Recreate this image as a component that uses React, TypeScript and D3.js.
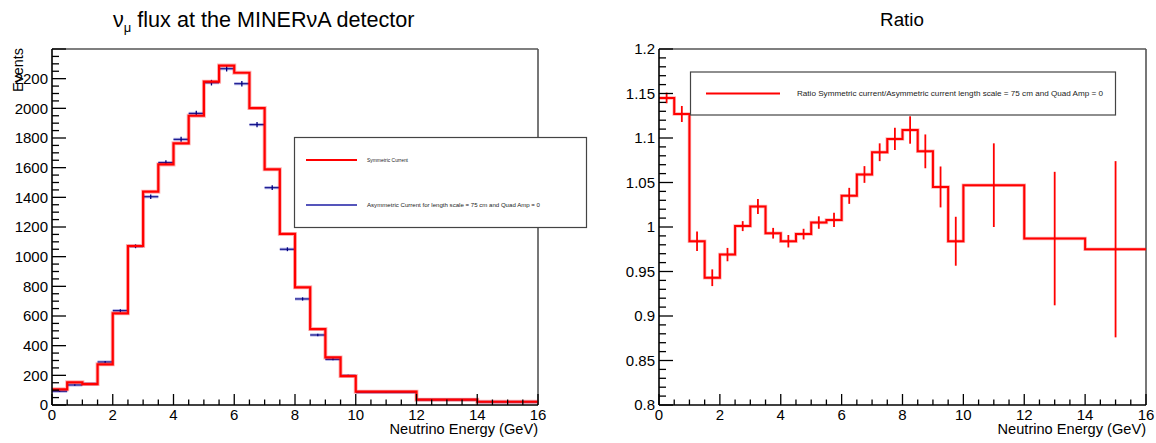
import React from "react";
import * as d3 from "d3";

// ---------- data ----------
const binEdges = [0, 0.5, 1, 1.5, 2, 2.5, 3, 3.5, 4, 4.5, 5, 5.5, 6, 6.5, 7, 7.5, 8, 8.5, 9, 9.5, 10, 12, 14, 16];
const symmetricCurrent = [106, 153, 141, 274, 618, 1072, 1438, 1622, 1764, 1950, 2180, 2288, 2240, 2002, 1589, 1153, 793, 512, 321, 195, 90, 36, 22];
const asymmetricCurrent = [93, 135, 143, 290, 636, 1070, 1404, 1634, 1791, 1966, 2173, 2267, 2166, 1890, 1465, 1050, 715, 472, 308, 198, 86, 35, 21];
const asymmetricErr = [4, 5, 5, 7, 10, 13, 15, 16, 17, 18, 19, 19, 19, 18, 16, 13, 11, 9, 7, 6, 4, 3, 2];
const ratioValues = [1.145, 1.127, 0.984, 0.943, 0.969, 1.001, 1.023, 0.993, 0.984, 0.992, 1.005, 1.008, 1.035, 1.059, 1.084, 1.099, 1.109, 1.085, 1.045, 0.984, 1.047, 0.987, 0.975];
const ratioErr = [0.006, 0.009, 0.011, 0.0094, 0.0075, 0.0056, 0.0084, 0.006, 0.007, 0.006, 0.007, 0.008, 0.009, 0.0094, 0.01, 0.0125, 0.0154, 0.019, 0.023, 0.0275, 0.047, 0.075, 0.099];

const xTickLabels = ["0", "2", "4", "6", "8", "10", "12", "14", "16"];
const leftYTickLabels = ["0", "200", "400", "600", "800", "1000", "1200", "1400", "1600", "1800", "2000", "2200"];
const rightYTickLabels = ["0.8", "0.85", "0.9", "0.95", "1", "1.05", "1.1", "1.15", "1.2"];

const leftTitleMain = "ν";
const leftTitleSub = "μ";
const leftTitleRest = " flux at the MINERνA detector";
const rightTitle = "Ratio";
const xAxisTitle = "Neutrino Energy (GeV)";
const leftYAxisTitle = "Events";
const legendSym = "Symmetric Current";
const legendAsym = "Asymmetric Current for length scale = 75 cm and Quad Amp = 0";
const legendRatio = "Ratio Symmetric current/Asymmetric current length scale = 75 cm and Quad Amp = 0";

const FONT = "'Liberation Sans', Arial, Helvetica, sans-serif";

function stepPath(x: d3.ScaleLinear<number, number>, y: d3.ScaleLinear<number, number>, vals: number[]) {
  const p = d3.path();
  vals.forEach((v, i) => {
    const x0 = x(binEdges[i]);
    const x1 = x(binEdges[i + 1]);
    const yy = y(v);
    if (i === 0) p.moveTo(x0, yy);
    else p.lineTo(x0, yy);
    p.lineTo(x1, yy);
  });
  return p.toString();
}

function Frame({ x0, x1, y0, y1 }: { x0: number; x1: number; y0: number; y1: number }) {
  return (
    <g>
      <line x1={x0} x2={x1} y1={y1} y2={y1} stroke="#555" strokeWidth={1.6} />
      <line x1={x1} x2={x1} y1={y1} y2={y0} stroke="#555" strokeWidth={1.6} />
    </g>
  );
}

function XAxis({ x, y0 }: { x: d3.ScaleLinear<number, number>; y0: number }) {
  const minor = d3.range(0, 16.001, 0.5);
  return (
    <g>
      {minor.map((v) => {
        const major = Math.abs(v / 2 - Math.round(v / 2)) < 1e-6;
        return (
          <line key={v} x1={x(v)} x2={x(v)} y1={y0} y2={y0 - (major ? 11 : 5.5)} stroke="#000" strokeWidth={1.3} />
        );
      })}
      {xTickLabels.map((t) => (
        <text key={t} x={x(+t)} y={y0 + 15} fontSize={15} fontFamily={FONT} textAnchor="middle">
          {t}
        </text>
      ))}
      <line x1={x.range()[0]} x2={x.range()[1]} y1={y0} y2={y0} stroke="#000" strokeWidth={1.6} />
    </g>
  );
}

export default function App() {
  const top = 49;
  const bottom = 405;

  // Left panel
  const xL = d3.scaleLinear().domain([0, 16]).range([52, 538]);
  const yL = d3.scaleLinear().domain([0, 2400]).range([bottom, top]);
  // Right panel
  const xR = d3.scaleLinear().domain([0, 16]).range([659, 1146]);
  const yR = d3.scaleLinear().domain([0.8, 1.2]).range([bottom, top]);

  const leftMinor = d3.range(0, 2400.001, 50);
  const rightMinor = d3.range(0, 41).map((i) => 0.8 + i * 0.01);

  const symPath = stepPath(xL, yL, symmetricCurrent);
  const ratioPath = stepPath(xR, yR, ratioValues);

  return (
    <svg width={1156} height={443} style={{ position: "absolute", left: 0, top: 0, background: "#fff" }}>
      <rect x={0} y={0} width={1156} height={443} fill="#fff" />

      {/* ---------- LEFT PANEL ---------- */}
      <text x={113} y={27} fontSize={21.6} fontFamily={FONT}>
        <tspan>{leftTitleMain}</tspan>
        <tspan fontSize={13} dy={5}>{leftTitleSub}</tspan>
        <tspan dy={-5}>{leftTitleRest}</tspan>
      </text>

      <Frame x0={52} x1={538} y0={bottom} y1={top} />

      {/* blue: asymmetric */}
      <g>
        {asymmetricCurrent.map((v, i) => {
          const x0 = xL(binEdges[i]);
          const x1 = xL(binEdges[i + 1]);
          const xc = (x0 + x1) / 2;
          return (
            <g key={i}>
              <line x1={x0} x2={x1} y1={yL(v)} y2={yL(v)} stroke="rgba(90,90,200,0.5)" strokeWidth={3} />
              <line x1={x0} x2={x1} y1={yL(v)} y2={yL(v)} stroke="#000080" strokeWidth={1} />
              <line x1={xc} x2={xc} y1={yL(v - asymmetricErr[i])} y2={yL(v + asymmetricErr[i])} stroke="#000080" strokeWidth={1.3} />
            </g>
          );
        })}
      </g>

      {/* red: symmetric */}
      <path d={symPath} fill="none" stroke="rgba(255,0,0,0.3)" strokeWidth={4} />
      <path d={symPath} fill="none" stroke="#ff0000" strokeWidth={2.2} />

      {/* left y axis */}
      <g>
        {leftMinor.map((v) => {
          const major = v % 200 === 0;
          return <line key={v} x1={52} x2={52 + (major ? 14 : 7)} y1={yL(v)} y2={yL(v)} stroke="#000" strokeWidth={1.3} />;
        })}
        {leftYTickLabels.map((t) => (
          <text key={t} x={48} y={yL(+t)} dy="0.36em" fontSize={15} fontFamily={FONT} textAnchor="end">
            {t}
          </text>
        ))}
        <line x1={52} x2={52} y1={top} y2={bottom} stroke="#000" strokeWidth={1.6} />
      </g>
      <XAxis x={xL} y0={bottom} />

      <text x={538} y={434} fontSize={14.6} fontFamily={FONT} textAnchor="end">{xAxisTitle}</text>
      <text transform="translate(23,48) rotate(-90)" fontSize={14.4} fontFamily={FONT} textAnchor="end">{leftYAxisTitle}</text>

      {/* left legend */}
      <g>
        <rect x={294.5} y={137.5} width={292} height={90} fill="#fff" stroke="#444" strokeWidth={1.2} />
        <line x1={306} x2={357} y1={160} y2={160} stroke="#ff0000" strokeWidth={2} />
        <text x={367} y={160} dy="0.35em" fontSize={5.8} fontFamily={FONT} fill="#222" textLength={41} lengthAdjust="spacingAndGlyphs">{legendSym}</text>
        <line x1={306} x2={357} y1={205} y2={205} stroke="#5555bb" strokeWidth={1.8} />
        <text x={367} y={205} dy="0.35em" fontSize={5.8} fontFamily={FONT} fill="#222" textLength={173} lengthAdjust="spacingAndGlyphs">{legendAsym}</text>
      </g>

      {/* ---------- RIGHT PANEL ---------- */}
      <text x={902} y={26} fontSize={18.8} fontFamily={FONT} textAnchor="middle">{rightTitle}</text>

      <Frame x0={659} x1={1146} y0={bottom} y1={top} />

      {/* ratio error bars */}
      <g>
        {ratioValues.map((v, i) => {
          const xc = xR((binEdges[i] + binEdges[i + 1]) / 2);
          return (
            <line key={i} x1={xc} x2={xc} y1={yR(v - ratioErr[i])} y2={yR(v + ratioErr[i])} stroke="#ff0000" strokeWidth={1.8} />
          );
        })}
      </g>
      <path d={ratioPath} fill="none" stroke="rgba(255,0,0,0.3)" strokeWidth={3.5} />
      <path d={ratioPath} fill="none" stroke="#ff0000" strokeWidth={2} />

      {/* right y axis */}
      <g>
        {rightMinor.map((v, i) => {
          const major = i % 5 === 0;
          return <line key={i} x1={659} x2={659 + (major ? 14 : 7)} y1={yR(v)} y2={yR(v)} stroke="#000" strokeWidth={1.3} />;
        })}
        {rightYTickLabels.map((t) => (
          <text key={t} x={655} y={yR(+t)} dy="0.36em" fontSize={15} fontFamily={FONT} textAnchor="end">
            {t}
          </text>
        ))}
        <line x1={659} x2={659} y1={top} y2={bottom} stroke="#000" strokeWidth={1.6} />
      </g>
      <XAxis x={xR} y0={bottom} />
      <text x={1146} y={434} fontSize={14.6} fontFamily={FONT} textAnchor="end">{xAxisTitle}</text>

      {/* right legend */}
      <g>
        <rect x={690.5} y={72} width={425} height={43} fill="#fff" stroke="#444" strokeWidth={1.2} />
        <line x1={706} x2={780} y1={93.5} y2={93.5} stroke="#ff0000" strokeWidth={2} />
        <text x={797} y={93.5} dy="0.35em" fontSize={7.4} fontFamily={FONT} fill="#222" textLength={306} lengthAdjust="spacingAndGlyphs">{legendRatio}</text>
      </g>
    </svg>
  );
}
